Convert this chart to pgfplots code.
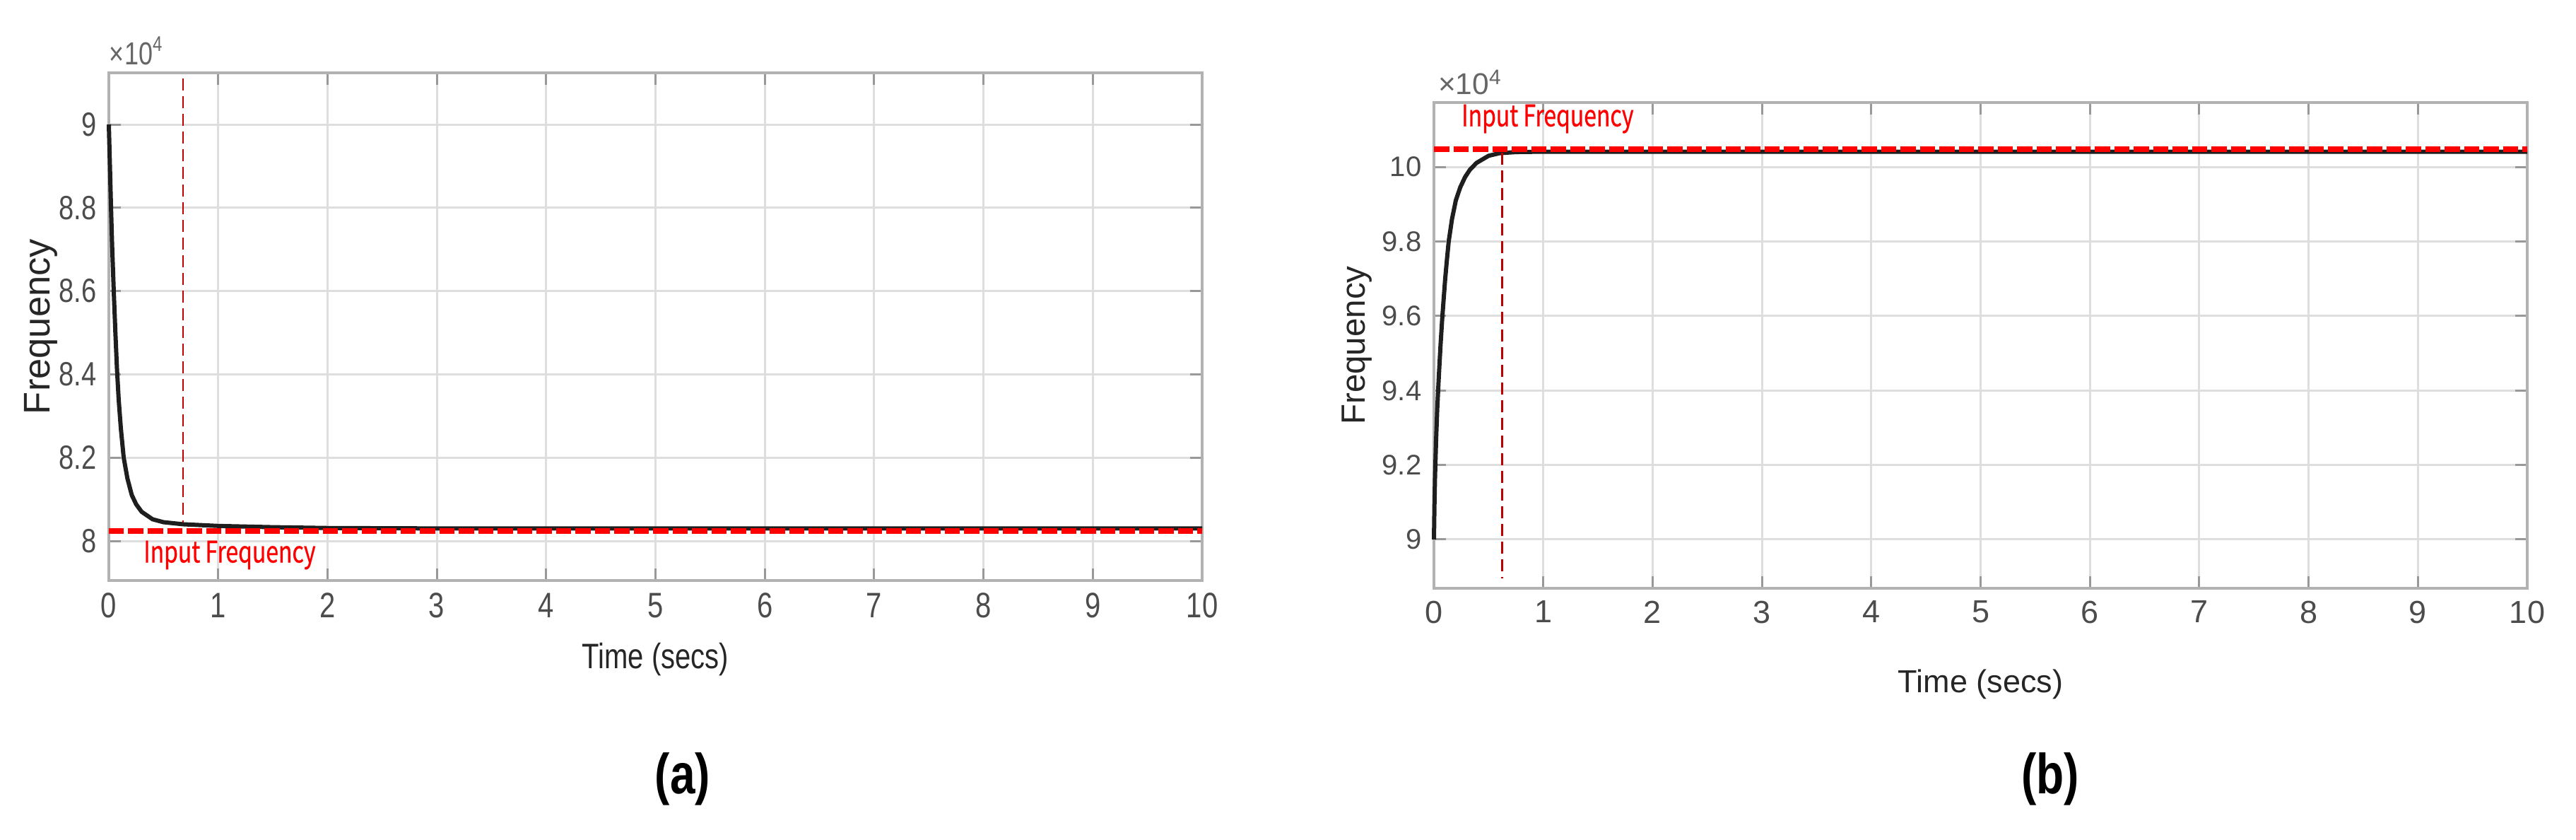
\documentclass[border=0pt]{standalone}
\usepackage{fontspec}
\setmainfont{Liberation Sans}
\newfontfamily\narrowsans[FakeStretch=0.8]{Liberation Sans}
\newfontfamily\inputfont[FakeStretch=0.76, FakeBold=0.6]{Noto Sans CJK KR}
\usepackage{pgfplots}
\pgfplotsset{compat=1.18}
\definecolor{darkred}{RGB}{192,0,0}
\definecolor{curve}{RGB}{30,30,30}

\pgfplotsset{
  matlab/.style={
    scale only axis, width=309.4pt, anchor=south west,
    xmin=0, xmax=10, xtick={0,1,2,3,4,5,6,7,8,9,10},
    grid=major, major grid style={line width=0.6pt, black!13},
    axis line style={line width=0.9pt, black!30},
    tick align=inside, major tick length=3.4pt,
    every tick/.style={black!40, line width=0.6pt},
    /pgf/number format/assume math mode=true,
    yticklabel style={/pgf/number format/fixed, /pgf/number format/precision=1},
    tick label style={color=black!70},
    label style={color=black!85},
    scaled ticks=false,
    clip=false,
  }
}

\begin{document}
\begin{tikzpicture}
\path[use as bounding box] (0,0) rectangle (729pt,237.6pt);

% (a) frequency falls to the input value
\begin{axis}[matlab, at={(30.8pt,73.4pt)}, height=143.6pt,
  ymin=7.905, ymax=9.124, ytick={8,8.2,8.4,8.6,8.8,9},
  xlabel={Time (secs)}, ylabel={Frequency},
  xlabel style={at={(axis description cs:0.5,-0.156)}, anchor=center, font=\narrowsans\fontsize{10}{12}\selectfont},
  ylabel style={at={(axis description cs:-0.062,0.5)}, anchor=center, font=\fontsize{10.5}{12}\selectfont},
  xticklabel style={font=\narrowsans\fontsize{10}{12}\selectfont},
  yticklabel style={font=\narrowsans\fontsize{9.5}{11}\selectfont},
]
\addplot[curve, line width=1.2pt] coordinates {
  (0,9.0) (0.01,8.9) (0.02,8.8) (0.03,8.71) (0.045,8.6) (0.06,8.5)
  (0.075,8.41) (0.09,8.34) (0.11,8.27) (0.136,8.2) (0.17,8.15) (0.21,8.11)
  (0.25,8.088) (0.3,8.07) (0.4,8.052) (0.5,8.045) (0.68,8.04) (1.0,8.036)
  (1.5,8.033) (2,8.031) (3,8.03) (5,8.03) (10,8.03)};
\addplot[red, line width=1.6pt, dash pattern=on 4.3pt off 1.2pt] coordinates {(0,8.024) (10,8.024)};
\addplot[darkred, line width=0.45pt, dash pattern=on 3.4pt off 1.6pt] coordinates {(0.68,9.11) (0.68,8.045)};
\node[red, font=\inputfont\fontsize{8.4}{10}\selectfont] at (axis cs:1.105,7.966) {Input Frequency};
\node[anchor=south west, inner sep=0pt, yshift=2pt, text=black!60, font=\narrowsans\fontsize{9}{11}\selectfont] at (rel axis cs:0,1) {×10\textsuperscript{4}};
\end{axis}

% (b) frequency rises to the input value
\begin{axis}[matlab, at={(405.8pt,71.2pt)}, height=137.4pt,
  ymin=8.869, ymax=10.173, ytick={9,9.2,9.4,9.6,9.8,10},
  xlabel={Time (secs)}, ylabel={Frequency},
  xlabel style={at={(axis description cs:0.5,-0.198)}, anchor=center, font=\fontsize{9}{11}\selectfont},
  ylabel style={at={(axis description cs:-0.0705,0.5)}, anchor=center, font=\fontsize{9.5}{11}\selectfont},
  xticklabel style={font=\fontsize{9}{11}\selectfont},
  yticklabel style={font=\fontsize{8}{10}\selectfont},
]
\addplot[curve, line width=1.2pt] coordinates {
  (0,9.0) (0.005,9.1) (0.01,9.17) (0.02,9.27) (0.03,9.35) (0.045,9.44)
  (0.06,9.52) (0.075,9.59) (0.09,9.65) (0.103,9.70) (0.12,9.755) (0.135,9.8)
  (0.165,9.86) (0.2,9.91) (0.24,9.945) (0.285,9.973) (0.33,9.993) (0.39,10.011)
  (0.5,10.03) (0.6,10.037) (0.75,10.04) (1,10.041) (10,10.041)};
\addplot[red, line width=1.6pt, dash pattern=on 4.3pt off 1.2pt] coordinates {(0,10.047) (10,10.047)};
\addplot[darkred, line width=0.6pt, dash pattern=on 3.4pt off 1.6pt] coordinates {(0.626,10.038) (0.626,8.896)};
\node[red, font=\inputfont\fontsize{8.4}{10}\selectfont] at (axis cs:1.04,10.129) {Input Frequency};
\node[anchor=south west, inner sep=0pt, yshift=2pt, xshift=1pt, text=black!60, font=\fontsize{8.5}{10}\selectfont] at (rel axis cs:0,1) {×10\textsuperscript{4}};
\end{axis}

\node[font=\narrowsans\bfseries\fontsize{16}{18}\selectfont] at (193.2pt,17.2pt) {(a)};
\node[font=\narrowsans\bfseries\fontsize{16}{18}\selectfont] at (580.2pt,17.2pt) {(b)};
\end{tikzpicture}
\end{document}
